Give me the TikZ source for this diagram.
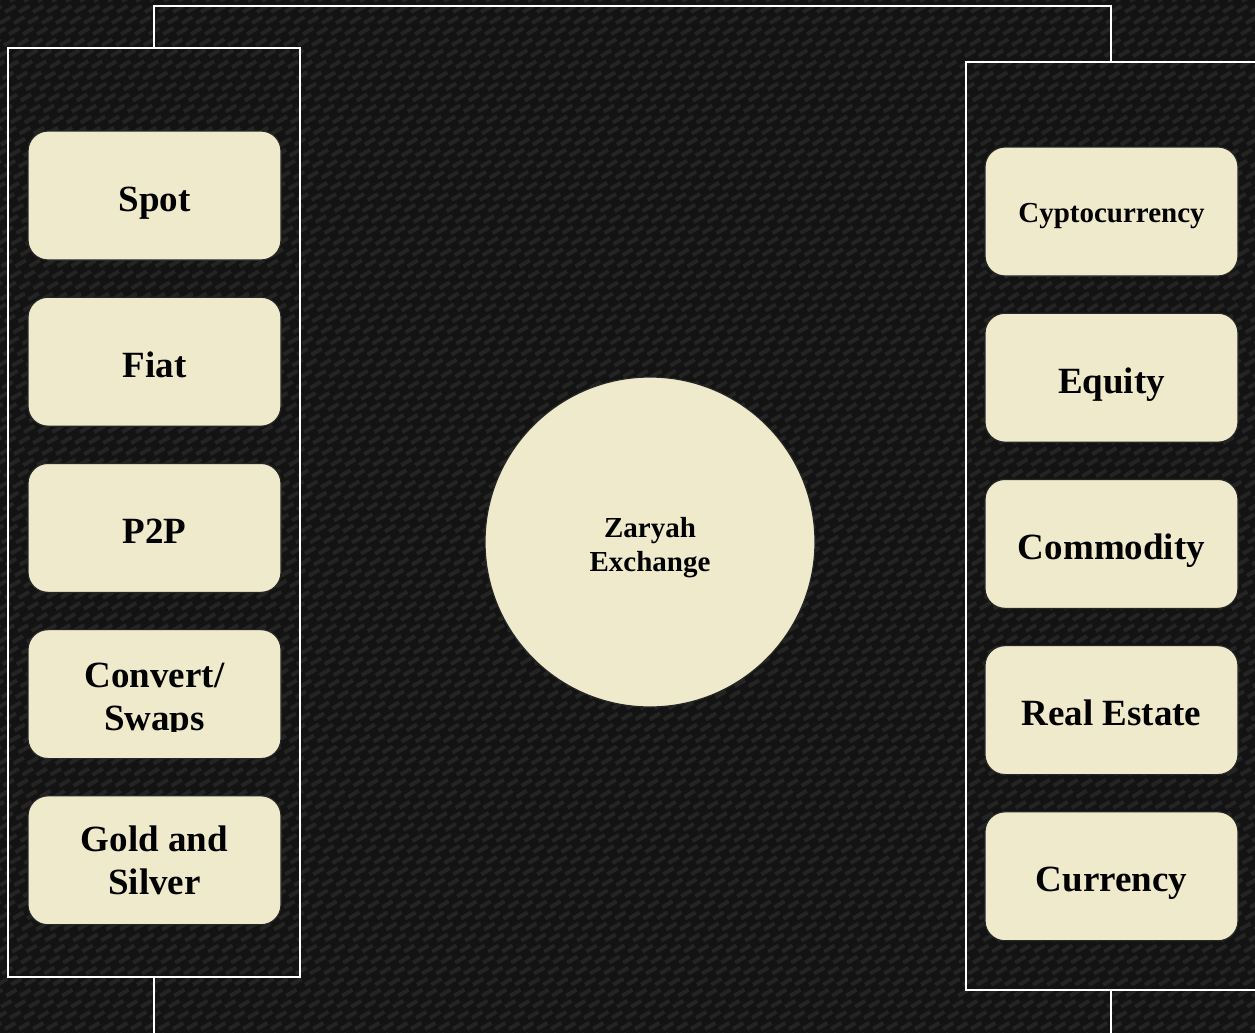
\documentclass[tikz,border=0pt]{standalone}
\usepackage{fontspec}
\setmainfont{Liberation Serif}
\usetikzlibrary{positioning}
\definecolor{canvas}{RGB}{19,19,19}
\definecolor{weave}{RGB}{36,36,36}
\definecolor{cream}{RGB}{238,234,203}

\begin{document}
\begin{tikzpicture}[x=0.5pt,y=-0.5pt,
  tile/.style={draw=black!85,line width=0.6pt,fill=cream,rounded corners=10pt,
    minimum width=126.5pt,minimum height=64.5pt,inner sep=2pt,align=center,
    text=black,font=\fontsize{18.5}{21.5}\selectfont\bfseries},
  onetile/.style={tile,text height=15.5pt,text depth=0pt},
  smalltile/.style={tile,font=\fontsize{14.5}{17}\selectfont\bfseries,
    text height=11pt,text depth=0pt},
  hub/.style={circle,draw=black!85,line width=0.6pt,fill=cream,minimum size=165pt},
  hubtext/.style={align=center,text=black,font=\fontsize{14.5}{17}\selectfont\bfseries},
  panel/.style={draw=white,line width=1pt,inner sep=0pt},
  link/.style={draw=white,line width=1pt}]
\useasboundingbox (0,0) rectangle (1255,1033);
\clip (0,0) rectangle (1255,1033);
\fill[canvas] (0,0) rectangle (1255,1033);
% faint canvas weave
\foreach \k in {-135,...,92}
  \draw[weave,line width=2pt,dash pattern=on 6pt off 5pt] (\k*14,1040) -- ++(1850,-1075);

% the two panels
\node[panel,minimum width=146pt,minimum height=464.5pt] (left) at (154,512.5) {};
\node[panel,minimum width=145pt,minimum height=464pt] (right) at (1111,526) {};

% left column
\node[onetile] (spot) at (154.5,195.5) {Spot};
\node[onetile,below=18pt of spot] (fiat) {Fiat};
\node[onetile,below=18pt of fiat] (ptwop) {P2P};
\node[tile,below=18pt of ptwop] (swap) {};
\node[tile,below=18pt of swap] (gold) {Gold and\\Silver};
\begin{scope}
  \clip (swap.north west) rectangle ([yshift=14pt]swap.south east);
  \node[tile,draw=none,fill=none] (swaptext) at ([yshift=-3.5pt]swap.center) {Convert/\\Swaps};
\end{scope}

% right column
\node[smalltile] (crypto) at (1111.5,211.5) {Cyptocurrency};
\node[onetile,below=18pt of crypto] (equity) {Equity};
\node[onetile,below=18pt of equity] (commod) {Commodity};
\node[onetile,below=18pt of commod] (estate) {Real Estate};
\node[onetile,below=18pt of estate] (curr) {Currency};

% centre
\node[hub,label={[hubtext,yshift=-3pt]center:Zaryah\\Exchange}] (zaryah) at (650,542) {};

% connectors
\coordinate (ridge) at (630,6);
\coordinate (lfoot) at (154,1040);
\coordinate (rfoot) at (1111,1040);
\draw[link] (left.north) |- (ridge) -| (right.north);
\draw[link] (left.south) -- (lfoot);
\draw[link] (right.south) -- (rfoot);
\end{tikzpicture}
\end{document}
